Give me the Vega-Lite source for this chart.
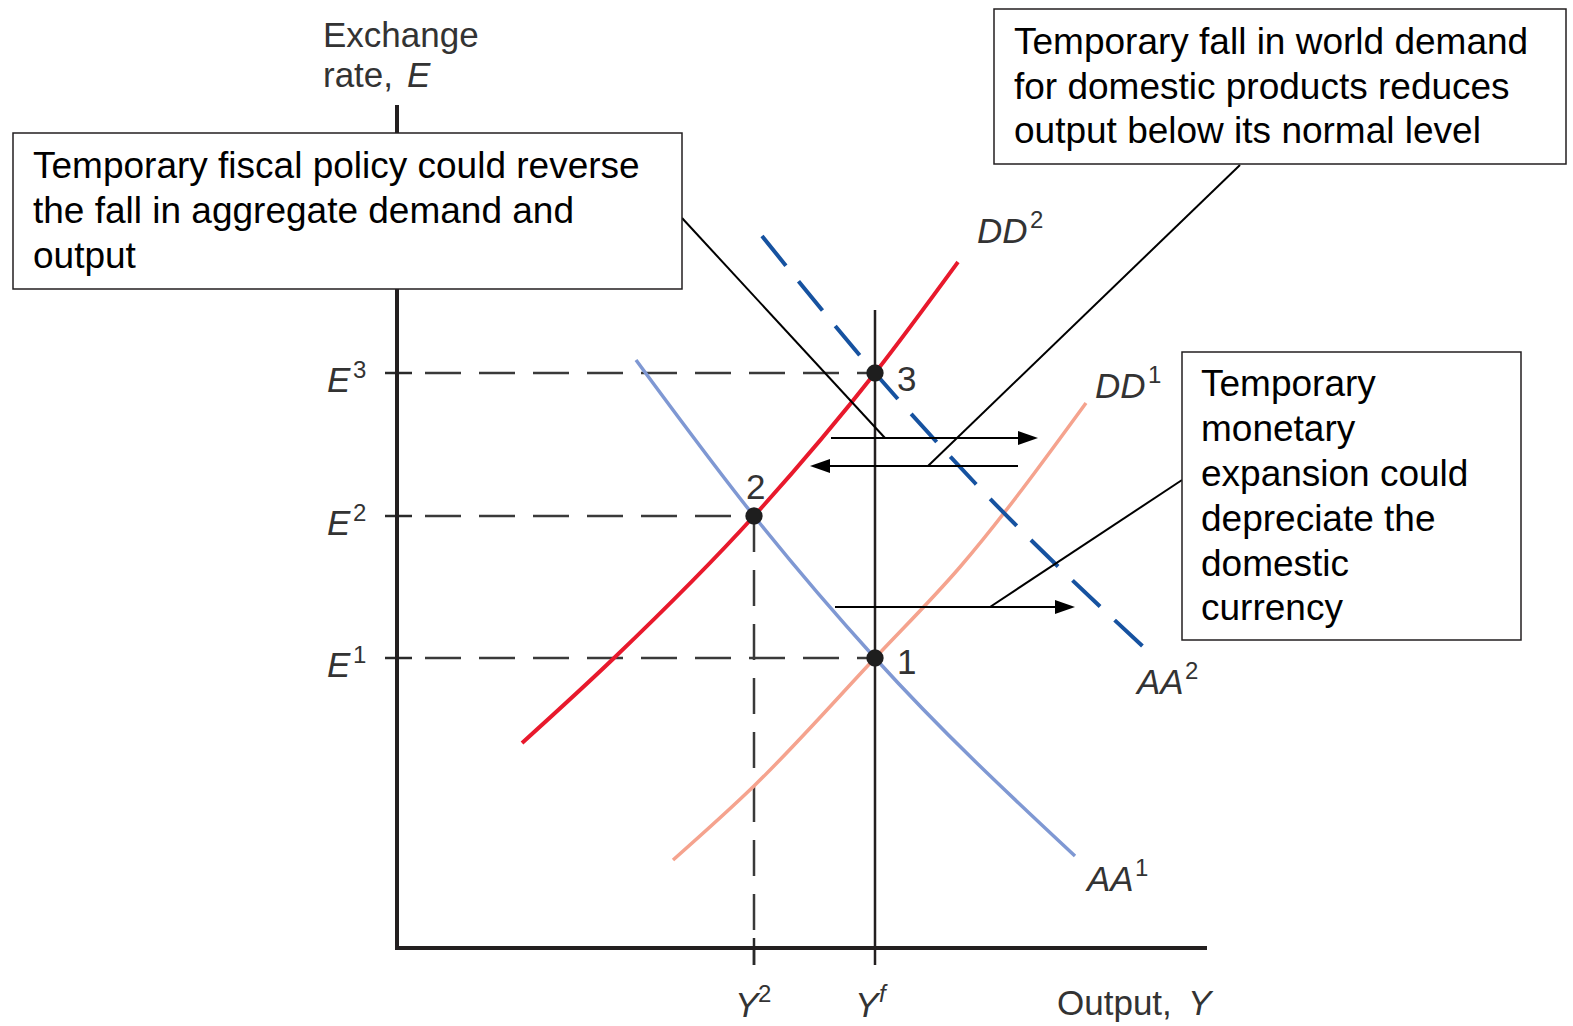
{
  "$schema": "https://vega.github.io/schema/vega-lite/v6.json",
  "width": 1573,
  "height": 1026,
  "autosize": {"type": "fit", "contains": "padding"},
  "padding": 0,
  "background": "white",
  "config": {"view": {"stroke": null}},
  "datasets": {
    "segments": [
      {"kind": "axis", "x": 0, "y": 843, "x2": 0, "y2": -2},
      {"kind": "axis", "x": -2, "y": 0, "x2": 810, "y2": 0},
      {"kind": "tick", "x": -12, "y": 575, "x2": 15, "y2": 575},
      {"kind": "tick", "x": -12, "y": 432, "x2": 15, "y2": 432},
      {"kind": "tick", "x": -12, "y": 290, "x2": 15, "y2": 290},
      {"kind": "tick", "x": 357, "y": 10, "x2": 357, "y2": -17},
      {"kind": "dash", "x": 28, "y": 575, "x2": 478, "y2": 575},
      {"kind": "dash", "x": 28, "y": 432, "x2": 357, "y2": 432},
      {"kind": "dash", "x": 28, "y": 290, "x2": 478, "y2": 290},
      {"kind": "dash", "x": 357, "y": 432, "x2": 357, "y2": -17},
      {"kind": "vline", "x": 478, "y": 638, "x2": 478, "y2": -17},
      {"kind": "shaft", "x": 434, "y": 510, "x2": 630, "y2": 510},
      {"kind": "shaft", "x": 621, "y": 482, "x2": 424, "y2": 482},
      {"kind": "shaft", "x": 438, "y": 341, "x2": 667, "y2": 341},
      {"kind": "callout", "x": 285, "y": 730, "x2": 488, "y2": 510},
      {"kind": "callout", "x": 843, "y": 783, "x2": 531, "y2": 482},
      {"kind": "callout", "x": 785, "y": 468, "x2": 593, "y2": 341}
    ],
    "heads": [
      {"dir": "r", "x": 641, "y": 510},
      {"dir": "l", "x": 413, "y": 482},
      {"dir": "r", "x": 678, "y": 341}
    ],
    "curves": [
      {"curve": "DD2", "i": 1, "x": 125, "y": 205},
      {"curve": "DD2", "i": 2, "x": 216, "y": 289},
      {"curve": "DD2", "i": 3, "x": 357, "y": 432},
      {"curve": "DD2", "i": 4, "x": 478, "y": 575},
      {"curve": "DD2", "i": 5, "x": 561, "y": 686},
      {"curve": "DD1", "i": 1, "x": 276, "y": 88},
      {"curve": "DD1", "i": 2, "x": 358, "y": 163},
      {"curve": "DD1", "i": 3, "x": 478, "y": 290},
      {"curve": "DD1", "i": 4, "x": 563, "y": 381},
      {"curve": "DD1", "i": 5, "x": 689, "y": 545},
      {"curve": "AA1", "i": 1, "x": 239, "y": 588},
      {"curve": "AA1", "i": 2, "x": 357, "y": 432},
      {"curve": "AA1", "i": 3, "x": 478, "y": 290},
      {"curve": "AA1", "i": 4, "x": 678, "y": 92},
      {"curve": "AA2", "i": 1, "x": 365, "y": 712},
      {"curve": "AA2", "i": 2, "x": 478, "y": 575},
      {"curve": "AA2", "i": 3, "x": 578, "y": 465},
      {"curve": "AA2", "i": 4, "x": 755, "y": 293}
    ],
    "points": [
      {"name": "1", "x": 478, "y": 290},
      {"name": "2", "x": 357, "y": 432},
      {"name": "3", "x": 478, "y": 575}
    ],
    "boxes": [
      {"x": -384, "y": 815, "x2": 285, "y2": 659},
      {"x": 597, "y": 939, "x2": 1169, "y2": 784},
      {"x": 785, "y": 596, "x2": 1124, "y2": 308}
    ],
    "labels": [
      {"style": "box", "text": "Temporary fiscal policy could reverse", "x": -364, "y": 781},
      {"style": "box", "text": "the fall in aggregate demand and", "x": -364, "y": 736},
      {"style": "box", "text": "output", "x": -364, "y": 691},
      {"style": "box", "text": "Temporary fall in world demand", "x": 617, "y": 905},
      {"style": "box", "text": "for domestic products reduces", "x": 617, "y": 860},
      {"style": "box", "text": "output below its normal level", "x": 617, "y": 816},
      {"style": "box", "text": "Temporary", "x": 804, "y": 563},
      {"style": "box", "text": "monetary", "x": 804, "y": 518},
      {"style": "box", "text": "expansion could", "x": 804, "y": 473},
      {"style": "box", "text": "depreciate the", "x": 804, "y": 428},
      {"style": "box", "text": "domestic", "x": 804, "y": 383},
      {"style": "box", "text": "currency", "x": 804, "y": 339},
      {"style": "plain", "text": "Exchange", "x": -74, "y": 912},
      {"style": "plain", "text": "rate,", "x": -74, "y": 872},
      {"style": "plain", "text": "Output,", "x": 660, "y": -56},
      {"style": "plain", "text": "1", "x": 500, "y": 285},
      {"style": "plain", "text": "2", "x": 349, "y": 460},
      {"style": "plain", "text": "3", "x": 500, "y": 568},
      {"style": "italic", "text": "E", "x": 10, "y": 872},
      {"style": "italic", "text": "Y", "x": 791, "y": -56},
      {"style": "italic", "text": "E", "x": -70, "y": 567},
      {"style": "italic", "text": "E", "x": -70, "y": 424},
      {"style": "italic", "text": "E", "x": -70, "y": 282},
      {"style": "italic", "text": "Y", "x": 338, "y": -58},
      {"style": "italic", "text": "Y", "x": 458, "y": -58},
      {"style": "italic", "text": "DD", "x": 580, "y": 716},
      {"style": "italic", "text": "DD", "x": 698, "y": 561},
      {"style": "italic", "text": "AA", "x": 740, "y": 265},
      {"style": "italic", "text": "AA", "x": 690, "y": 68},
      {"style": "sup", "text": "3", "x": -44, "y": 577},
      {"style": "sup", "text": "2", "x": -44, "y": 434},
      {"style": "sup", "text": "1", "x": -44, "y": 292},
      {"style": "sup", "text": "2", "x": 361, "y": -47},
      {"style": "sup", "text": "2", "x": 633, "y": 727},
      {"style": "sup", "text": "1", "x": 751, "y": 572},
      {"style": "sup", "text": "2", "x": 788, "y": 276},
      {"style": "sup", "text": "1", "x": 738, "y": 79},
      {"style": "supi", "text": "f", "x": 482, "y": -47}
    ]
  },
  "encoding": {
    "x": {"field": "x", "type": "quantitative", "scale": {"domain": [-397, 1176], "nice": false, "zero": false}, "axis": null},
    "y": {"field": "y", "type": "quantitative", "scale": {"domain": [-78, 948], "nice": false, "zero": false}, "axis": null}
  },
  "layer": [
    {
      "data": {"name": "segments"},
      "transform": [{"filter": "datum.kind === 'dash'"}],
      "mark": {"type": "rule", "color": "#3a3a3a", "strokeWidth": 2.5, "strokeDash": [36, 18]},
      "encoding": {"x2": {"field": "x2"}, "y2": {"field": "y2"}}
    },
    {
      "data": {"name": "segments"},
      "transform": [{"filter": "datum.kind === 'tick'"}],
      "mark": {"type": "rule", "color": "#2a2a2a", "strokeWidth": 2.5},
      "encoding": {"x2": {"field": "x2"}, "y2": {"field": "y2"}}
    },
    {
      "data": {"name": "curves"},
      "transform": [{"filter": "datum.curve === 'DD1'"}],
      "mark": {"type": "line", "color": "#f5a38e", "strokeWidth": 3.5, "interpolate": "monotone"},
      "encoding": {"order": {"field": "i"}}
    },
    {
      "data": {"name": "curves"},
      "transform": [{"filter": "datum.curve === 'AA1'"}],
      "mark": {"type": "line", "color": "#7f98d3", "strokeWidth": 3.5, "interpolate": "monotone"},
      "encoding": {"order": {"field": "i"}}
    },
    {
      "data": {"name": "curves"},
      "transform": [{"filter": "datum.curve === 'DD2'"}],
      "mark": {"type": "line", "color": "#e8192c", "strokeWidth": 4, "interpolate": "monotone"},
      "encoding": {"order": {"field": "i"}}
    },
    {
      "data": {"name": "curves"},
      "transform": [{"filter": "datum.curve === 'AA2'"}],
      "mark": {"type": "line", "color": "#1652a0", "strokeWidth": 4, "strokeDash": [38, 20], "interpolate": "monotone"},
      "encoding": {"order": {"field": "i"}}
    },
    {
      "data": {"name": "segments"},
      "transform": [{"filter": "datum.kind === 'axis'"}],
      "mark": {"type": "rule", "color": "#231f20", "strokeWidth": 4},
      "encoding": {"x2": {"field": "x2"}, "y2": {"field": "y2"}}
    },
    {
      "data": {"name": "segments"},
      "transform": [{"filter": "datum.kind === 'vline'"}],
      "mark": {"type": "rule", "color": "#231f20", "strokeWidth": 2.5},
      "encoding": {"x2": {"field": "x2"}, "y2": {"field": "y2"}}
    },
    {
      "data": {"name": "segments"},
      "transform": [{"filter": "datum.kind === 'shaft' || datum.kind === 'callout'"}],
      "mark": {"type": "rule", "color": "#000000", "strokeWidth": 2},
      "encoding": {"x2": {"field": "x2"}, "y2": {"field": "y2"}}
    },
    {
      "data": {"name": "heads"},
      "transform": [{"filter": "datum.dir === 'r'"}],
      "mark": {"type": "point", "shape": "M -2 -0.7 L 0 0 L -2 0.7 Z", "size": 400, "filled": true, "color": "#000000", "opacity": 1}
    },
    {
      "data": {"name": "heads"},
      "transform": [{"filter": "datum.dir === 'l'"}],
      "mark": {"type": "point", "shape": "M 2 -0.7 L 0 0 L 2 0.7 Z", "size": 400, "filled": true, "color": "#000000", "opacity": 1}
    },
    {
      "data": {"name": "points"},
      "mark": {"type": "circle", "size": 300, "color": "#1e1e1e", "opacity": 1}
    },
    {
      "data": {"name": "boxes"},
      "mark": {"type": "rect", "fill": "white", "stroke": "#231f20", "strokeWidth": 1.5},
      "encoding": {"x2": {"field": "x2"}, "y2": {"field": "y2"}}
    },
    {
      "data": {"name": "labels"},
      "transform": [{"filter": "datum.style === 'box'"}],
      "mark": {"type": "text", "align": "left", "baseline": "middle", "font": "Liberation Sans", "fontSize": 37, "color": "#000000"},
      "encoding": {"text": {"field": "text"}}
    },
    {
      "data": {"name": "labels"},
      "transform": [{"filter": "datum.style === 'plain'"}],
      "mark": {"type": "text", "align": "left", "baseline": "middle", "font": "Liberation Sans", "fontSize": 35, "color": "#333333"},
      "encoding": {"text": {"field": "text"}}
    },
    {
      "data": {"name": "labels"},
      "transform": [{"filter": "datum.style === 'italic'"}],
      "mark": {"type": "text", "align": "left", "baseline": "middle", "font": "Liberation Sans", "fontSize": 35, "fontStyle": "italic", "color": "#333333"},
      "encoding": {"text": {"field": "text"}}
    },
    {
      "data": {"name": "labels"},
      "transform": [{"filter": "datum.style === 'sup'"}],
      "mark": {"type": "text", "align": "left", "baseline": "middle", "font": "Liberation Sans", "fontSize": 24, "color": "#333333"},
      "encoding": {"text": {"field": "text"}}
    },
    {
      "data": {"name": "labels"},
      "transform": [{"filter": "datum.style === 'supi'"}],
      "mark": {"type": "text", "align": "left", "baseline": "middle", "font": "Liberation Sans", "fontSize": 24, "fontStyle": "italic", "color": "#333333"},
      "encoding": {"text": {"field": "text"}}
    }
  ]
}
